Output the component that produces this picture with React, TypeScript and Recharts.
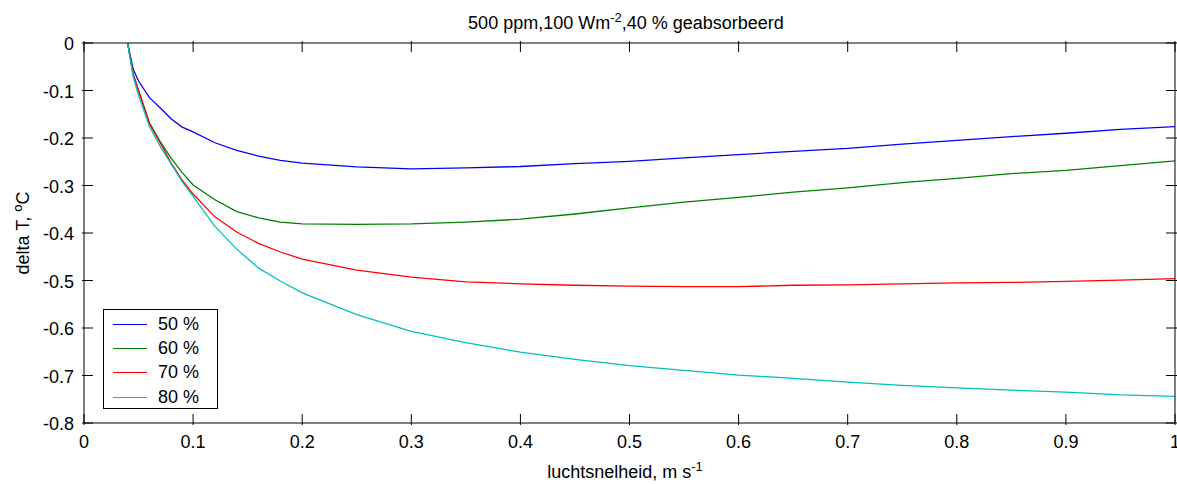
import React from "react";
import { LineChart, Line, XAxis, YAxis, Legend } from "recharts";

// luchtsnelheid (m/s)
const speeds = [0.04, 0.045, 0.05, 0.06, 0.07, 0.08, 0.09, 0.1, 0.12, 0.14, 0.16, 0.18, 0.2, 0.25, 0.3, 0.35, 0.4, 0.45, 0.5, 0.55, 0.6, 0.65, 0.7, 0.75, 0.8, 0.85, 0.9, 0.95, 1.0];

// delta T per relatieve vochtigheid
const rh50 = [0, -0.055, -0.08, -0.115, -0.137, -0.16, -0.177, -0.187, -0.21, -0.226, -0.238, -0.247, -0.253, -0.261, -0.265, -0.263, -0.26, -0.254, -0.249, -0.242, -0.235, -0.228, -0.222, -0.213, -0.205, -0.197, -0.19, -0.182, -0.176];
const rh60 = [0, -0.065, -0.1, -0.168, -0.208, -0.243, -0.273, -0.299, -0.33, -0.355, -0.368, -0.377, -0.381, -0.382, -0.381, -0.377, -0.371, -0.36, -0.347, -0.335, -0.325, -0.314, -0.305, -0.294, -0.285, -0.275, -0.268, -0.258, -0.248];
const rh70 = [0, -0.065, -0.1, -0.17, -0.211, -0.253, -0.289, -0.318, -0.366, -0.398, -0.422, -0.44, -0.455, -0.478, -0.493, -0.503, -0.507, -0.51, -0.512, -0.513, -0.513, -0.51, -0.509, -0.507, -0.505, -0.504, -0.502, -0.499, -0.496];
const rh80 = [0, -0.07, -0.11, -0.176, -0.218, -0.255, -0.292, -0.323, -0.386, -0.434, -0.474, -0.501, -0.526, -0.572, -0.607, -0.631, -0.651, -0.666, -0.679, -0.689, -0.699, -0.706, -0.714, -0.721, -0.726, -0.731, -0.735, -0.741, -0.744];

const xTicks = [0, 0.1, 0.2, 0.3, 0.4, 0.5, 0.6, 0.7, 0.8, 0.9, 1];
const yTicks = [0, -0.1, -0.2, -0.3, -0.4, -0.5, -0.6, -0.7, -0.8];

const series = [
  { key: "rh50", name: "50 %", color: "#0000ff", values: rh50 },
  { key: "rh60", name: "60 %", color: "#008000", values: rh60 },
  { key: "rh70", name: "70 %", color: "#ff0000", values: rh70 },
  { key: "rh80", name: "80 %", color: "#00bfbf", values: rh80 },
];

const data = speeds.map((s, i) => {
  const row: Record<string, number> = { speed: s };
  series.forEach(se => { row[se.key] = se.values[i]; });
  return row;
});

const FONT = 18;
const TICK = 11;
const INK = "#000";

const BottomTick = (p: any) => (
  <g>
    <line x1={p.x} y1={p.y} x2={p.x} y2={p.y - TICK} stroke={INK} />
    <text x={p.x} y={p.y + 23} textAnchor="middle" fontSize={FONT} fill={INK}>{String(p.payload.value)}</text>
  </g>
);
const TopTick = (p: any) => <line x1={p.x} y1={p.y} x2={p.x} y2={p.y + TICK} stroke={INK} />;
const LeftTick = (p: any) => (
  <g>
    <line x1={p.x} y1={p.y} x2={p.x + TICK} y2={p.y} stroke={INK} />
    <text x={p.x - 8} y={p.y + 7} textAnchor="end" fontSize={FONT} fill={INK}>{String(p.payload.value)}</text>
  </g>
);
const RightTick = (p: any) => <line x1={p.x} y1={p.y} x2={p.x - TICK} y2={p.y} stroke={INK} />;

const LegendBox = (props: any) => (
  <div style={{ border: "1px solid #000", background: "#fff", width: 115, height: 100, paddingTop: 2, boxSizing: "border-box" }}>
    {(props.payload || []).filter((e: any) => e.type !== "none").map((e: any) => (
      <div key={e.value} style={{ height: 24.3, display: "flex", alignItems: "center" }}>
        <div style={{ marginLeft: 9, width: 34, height: 0, borderTop: `1.5px solid ${e.color}` }} />
        <span style={{ marginLeft: 11, fontSize: FONT, color: INK }}>{e.value}</span>
      </div>
    ))}
  </div>
);

export default function App() {
  return (
    <div style={{ position: "absolute", left: 0, top: 0, fontFamily: "'Liberation Sans', Arial, sans-serif", background: "#fff" }}>
      <LineChart width={1177} height={484} data={data} margin={{ top: 42, right: 1, bottom: 0, left: 24 }}>
        <XAxis
          dataKey="speed" type="number" domain={[0, 1]} ticks={xTicks} interval={0}
          height={61} tickSize={0} tickLine={false} tick={BottomTick} stroke={INK}
          label={{
            content: () => (
              <text x={625} y={478} textAnchor="middle" fontSize={FONT} fill={INK}>
                luchtsnelheid, m s<tspan dy={-7} fontSize={13}>-1</tspan>
              </text>
            ),
          }}
        />
        <XAxis
          xAxisId="top" orientation="top" dataKey="speed" type="number" domain={[0, 1]} ticks={xTicks} interval={0}
          height={1} tickSize={0} tickLine={false} tick={TopTick} stroke={INK}
          label={{
            content: () => (
              <text x={626} y={29} textAnchor="middle" fontSize={FONT} fill={INK}>
                500 ppm,100 Wm<tspan dy={-7} fontSize={13}>-2</tspan><tspan dy={7}>,40 % geabsorbeerd</tspan>
              </text>
            ),
          }}
        />
        <YAxis
          type="number" domain={[-0.8, 0]} ticks={yTicks} interval={0} width={60}
          tickSize={0} tickLine={false} tick={LeftTick} stroke={INK}
          label={{
            content: () => (
              <text x={29} y={233} transform="rotate(-90, 29, 233)" textAnchor="middle" fontSize={FONT} fill={INK}>
                delta T, <tspan dy={-7} fontSize={13}>o</tspan><tspan dy={7}>C</tspan>
              </text>
            ),
          }}
        />
        <YAxis
          yAxisId="right" orientation="right" type="number" domain={[-0.8, 0]} ticks={yTicks} interval={0} width={1}
          tickSize={0} tickLine={false} tick={RightTick} stroke={INK}
        />
        <Legend
          layout="vertical" align="center" verticalAlign="middle"
          content={LegendBox}
          wrapperStyle={{ left: 103, top: 309, width: 115, height: 100 }}
        />
        {/* invisible series so the top and right frame axes are bound */}
        <Line
          xAxisId="top" yAxisId="right" dataKey="rh50" stroke="none" legendType="none"
          dot={false} activeDot={false} isAnimationActive={false}
        />
        {series.map(se => (
          <Line
            key={se.key} dataKey={se.key} name={se.name} type="linear" stroke={se.color}
            strokeWidth={1.3} dot={false} activeDot={false} isAnimationActive={false}
          />
        ))}
      </LineChart>
    </div>
  );
}
